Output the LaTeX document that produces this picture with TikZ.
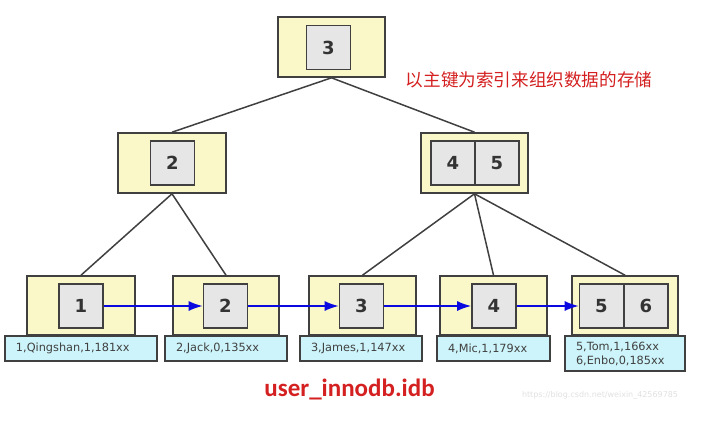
\documentclass[tikz,border=0pt]{standalone}
\usepackage{fontspec}
\setmainfont{DejaVu Sans}
\newfontfamily\cjk{Noto Sans CJK SC}
\newfontfamily\titlefont{Carlito}
\usetikzlibrary{arrows.meta}
\definecolor{pageyellow}{HTML}{FAF8C8}
\definecolor{keygray}{HTML}{E6E6E6}
\definecolor{datacyan}{HTML}{CDF4FA}
\definecolor{edgegray}{HTML}{404040}
\definecolor{redtext}{HTML}{D42020}
\definecolor{arrowblue}{HTML}{0A0AE0}
\tikzset{
  pagebox/.style={draw=edgegray, line width=1.6pt, fill=pageyellow, minimum height=59pt, inner sep=0pt},
  keybox/.style={draw=edgegray, line width=1.6pt, fill=keygray, minimum width=44pt, minimum height=44pt, inner sep=0pt, font=\bfseries\fontsize{18}{20}\selectfont, text=black!80},
  databox/.style={draw=edgegray, line width=1.6pt, fill=datacyan, minimum height=25pt, inner ysep=0pt, inner xsep=11pt, align=left, font=\fontsize{11.3}{14}\selectfont, text=black!75},
  treeline/.style={draw=edgegray, line width=1.5pt},
  nextarrow/.style={draw=arrowblue, line width=1.6pt, -{Latex[length=14pt,width=10pt]}}
}
\begin{document}
\begin{tikzpicture}[x=1pt,y=-1pt]
\useasboundingbox (0,0) rectangle (703,426);
% root
\node[pagebox, minimum width=107pt, minimum height=60pt] (r) at (331.5,47) {};
\node[keybox] (rk) at (328.5,47.5) {3};
\node[font=\cjk\fontsize{17.6}{20}\selectfont, text=redtext] (cap) at (529,80) {以主键为索引来组织数据的存储};
% level 2
\node[pagebox, minimum width=108pt, minimum height=60pt] (a) at (172,163) {};
\node[keybox] (ak) at (172.5,163) {2};
\node[pagebox, minimum width=107pt, minimum height=60pt] (b) at (474.5,163) {};
\node[keybox] (bk1) at (453,163) {4};
\node[keybox] (bk2) at (497,163) {5};
% leaves
\node[pagebox, minimum width=108pt] (l1) at (81,305.5) {};
\node[pagebox, minimum width=106pt] (l2) at (226,305.5) {};
\node[pagebox, minimum width=107pt] (l3) at (362.5,305.5) {};
\node[pagebox, minimum width=107pt] (l4) at (493.5,305.5) {};
\node[pagebox, minimum width=106pt] (l5) at (625,305.5) {};
\node[keybox] (k1) at (81,306) {1};
\node[keybox] (k2) at (225.5,306) {2};
\node[keybox] (k3) at (361.5,306) {3};
\node[keybox] (k4) at (494,306) {4};
\node[keybox] (k5) at (601.5,306) {5};
\node[keybox] (k6) at (646,306) {6};
% data
\node[databox, text width=130pt] (d1) at (81,348.5) {1,Qingshan,1,181xx};
\node[databox, text width=100pt] (d2) at (226,348.5) {2,Jack,0,135xx};
\node[databox, text width=100pt] (d3) at (361,348.5) {3,James,1,147xx};
\node[databox, text width=91pt] (d4) at (493.5,348.5) {4,Mic,1,179xx};
\node[databox, text width=98pt, minimum height=35pt] (d5) at (625,353.5) {5,Tom,1,166xx\\6,Enbo,0,185xx};
% tree lines
\draw[treeline] (r.south) -- (a.north);
\draw[treeline] (r.south) -- (b.north);
\draw[treeline] (a.south) -- (l1.north);
\draw[treeline] (a.south) -- (l2.north);
\draw[treeline] (b.south) -- (l3.north);
\draw[treeline] (b.south) -- (l4.north);
\draw[treeline] (b.south) -- (l5.north);
% leaf links
\draw[nextarrow] (k1.east) -- (k2.west);
\draw[nextarrow] (k2.east) -- (k3.west);
\draw[nextarrow] (k3.east) -- (k4.west);
\draw[nextarrow] (k4.east) -- (k5.west);
% labels
\node[font=\titlefont\bfseries\fontsize{25}{28}\selectfont, text=redtext] (file) at (349.5,389) {user\_innodb.idb};
\node[font=\fontsize{8}{10}\selectfont, text=black!12] (wm) at (600,395) {https://blog.csdn.net/weixin\_42569785};
\end{tikzpicture}
\end{document}
